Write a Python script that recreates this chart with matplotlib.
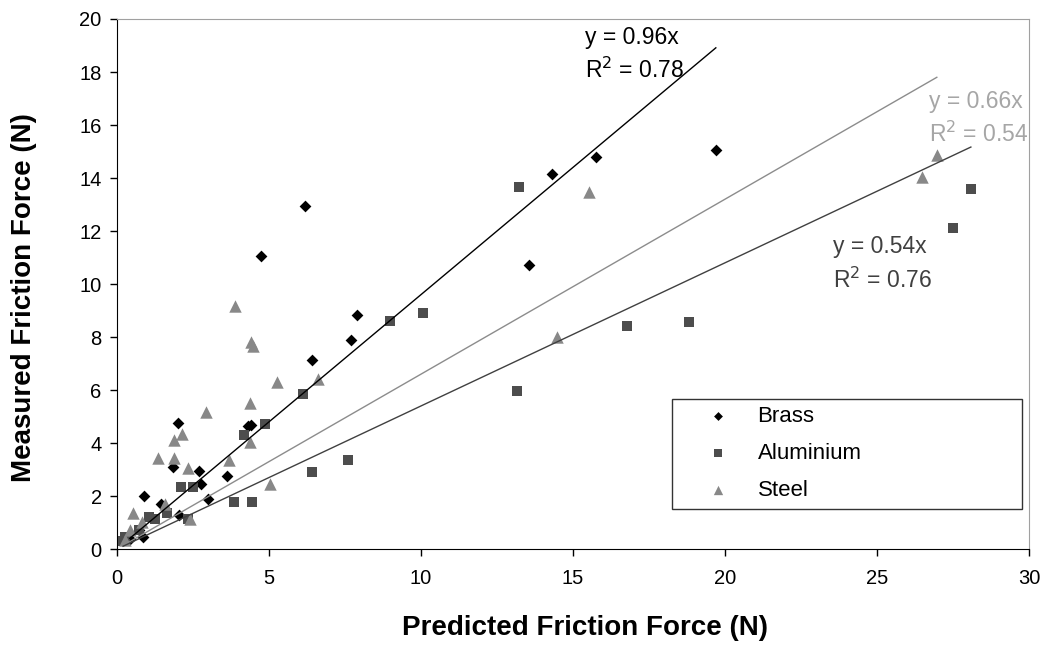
import matplotlib
matplotlib.use("Agg")
import matplotlib.pyplot as plt
import numpy as np

plt.rcParams['font.family'] = ['Liberation Sans', 'DejaVu Sans']

# measured vs predicted friction
brass_x = [19.7, 15.75, 14.3, 13.55, 6.18, 4.74, 7.9, 7.7, 6.41, 2.0, 1.83, 2.7, 2.76,
           4.3, 4.42, 3.62, 2.98, 0.88, 1.44, 2.05, 0.87, 0.72, 0.42]
brass_y = [15.05, 14.8, 14.15, 10.7, 12.95, 11.05, 8.85, 7.9, 7.12, 4.74, 3.08, 2.95, 2.47,
           4.65, 4.7, 2.74, 1.9, 2.02, 1.7, 1.3, 0.47, 0.72, 0.38]

alu_x = [28.09, 27.5, 13.22, 8.98, 10.07, 16.78, 18.82, 13.16, 6.12, 4.87, 4.19, 2.09,
         2.49, 3.85, 4.43, 6.4, 7.6, 1.06, 1.25, 1.63, 0.73, 0.26, 0.2, 2.35]
alu_y = [13.58, 12.11, 13.66, 8.6, 8.9, 8.42, 8.56, 5.96, 5.85, 4.71, 4.32, 2.33,
         2.33, 1.79, 1.79, 2.92, 3.38, 1.22, 1.12, 1.37, 0.72, 0.47, 0.3, 1.15]

steel_x = [26.97, 26.48, 15.53, 14.47, 3.88, 4.47, 4.4, 5.26, 6.61, 2.92, 4.38, 1.89,
           2.13, 1.36, 1.89, 2.35, 3.68, 4.38, 5.03, 0.54, 1.58, 2.4, 0.43, 0.26, 0.81]
steel_y = [14.87, 14.04, 13.47, 8.0, 9.17, 7.65, 7.8, 6.32, 6.41, 5.18, 5.5, 4.11,
           4.33, 3.45, 3.45, 3.07, 3.36, 4.05, 2.45, 1.38, 1.7, 1.13, 0.72, 0.34, 1.03]

# trendlines through origin
slopes = {"Brass": 0.96, "Aluminium": 0.54, "Steel": 0.66}
r2 = {"Brass": 0.78, "Aluminium": 0.76, "Steel": 0.54}

fig = plt.figure(figsize=(10.51, 6.46), dpi=100)
ax = fig.add_axes([0.1113, 0.150, 0.8677, 0.8206])

ax.scatter(brass_x, brass_y, marker="D", s=36, color="black", linewidths=0, label="Brass", zorder=3)
ax.scatter(alu_x, alu_y, marker="s", s=52, color="#4d4d4d", linewidths=0, label="Aluminium", zorder=3)
ax.scatter(steel_x, steel_y, marker="^", s=80, color="#888888", linewidths=0, label="Steel", zorder=3)

for name, xs, col in [("Brass", brass_x, "black"),
                      ("Steel", steel_x, "#8c8c8c"),
                      ("Aluminium", alu_x, "#404040")]:
    xl = np.array([min(xs), max(xs)])
    ax.plot(xl, slopes[name] * xl, color=col, lw=1, zorder=4)

def eq_text(x, y, name, col):
    ax.text(x, y, "y = %.2fx" % slopes[name], color=col, fontsize=16.5, va="center")
    ax.text(x, y - 1.25, "R$^2$ = %.2f" % r2[name], color=col, fontsize=16.5, va="center")

eq_text(15.4, 19.3, "Brass", "black")
eq_text(26.7, 16.9, "Steel", "#a6a6a6")
eq_text(23.55, 11.4, "Aluminium", "#404040")

ax.set_xlim(0, 30)
ax.set_ylim(0, 20)
ax.set_xticks(range(0, 31, 5))
ax.set_yticks(range(0, 21, 2))
ax.tick_params(labelsize=14.5, length=5, width=1, direction="out")
ax.tick_params(axis="x", pad=9)
ax.tick_params(axis="y", pad=6)
for s in ["top", "right"]:
    ax.spines[s].set_color("#a0a0a0")
for s in ["left", "bottom"]:
    ax.spines[s].set_color("black")

ax.set_xlabel("Predicted Friction Force (N)", fontsize=20, fontweight="bold", va="center")
ax.set_ylabel("Measured Friction Force (N)", fontsize=20, fontweight="bold", va="center")
ax.xaxis.set_label_coords(0.513, -0.149)
ax.yaxis.set_label_coords(-0.102, 0.475)

leg = ax.legend(loc="lower left", bbox_to_anchor=(0.6086, 0.0755, 0.384, 0.211), mode="expand",
                fontsize=16, frameon=True, fancybox=False, edgecolor="black", markerscale=0.75,
                labelspacing=0.72, handletextpad=0.1, borderpad=0.35, handlelength=3.4,
                borderaxespad=0)
leg.get_frame().set_linewidth(1)

fig.savefig("out.png", dpi=100)
